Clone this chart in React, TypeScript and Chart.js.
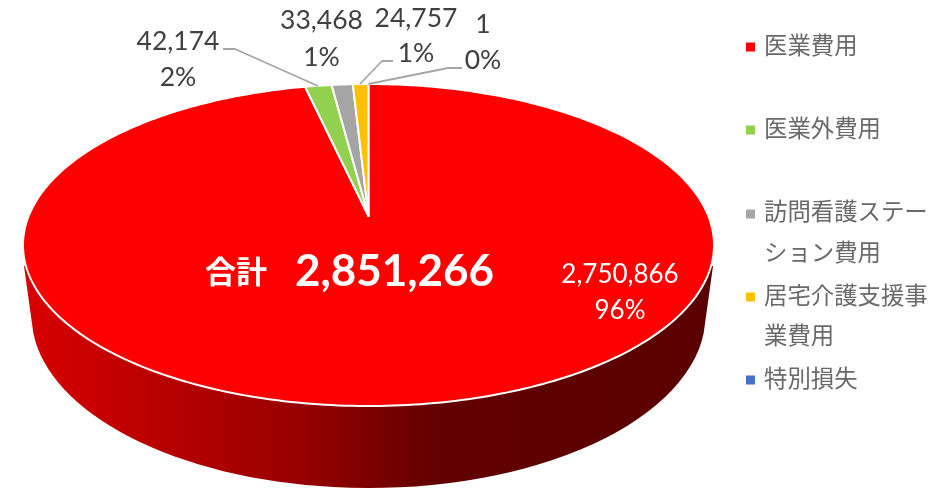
import React, { useEffect, useRef } from "react";
import { Chart, registerables } from "chart.js";

Chart.register(...registerables);

const categories = ["医業費用", "医業外費用", "訪問看護ステーション費用", "居宅介護支援事業費用", "特別損失"];
const legendLines = [["医業費用"], ["医業外費用"], ["訪問看護ステー", "ション費用"], ["居宅介護支援事", "業費用"], ["特別損失"]];
const values = [2750866, 42174, 33468, 24757, 1];
const percentLabels = ["96%", "2%", "1%", "1%", "0%"];
const colors = ["#FF0000", "#92D050", "#A5A5A5", "#FFC000", "#4472C4"];
const totalLabel = "合計";
const totalValue = 2851266;

// Layout of the projected disc (perspective view of a circle)
const CX = 368.5;
const APEX_Y = 216;
const TOP_Y = 84;
const BOTTOM_Y = 406;
const HALF_W = 345.5;
const K = -((BOTTOM_Y - APEX_Y) - (APEX_Y - TOP_Y)) / ((BOTTOM_Y - APEX_Y) + (APEX_Y - TOP_Y));
const B = (APEX_Y - TOP_Y) * (1 - K);
const A = HALF_W * Math.sqrt(1 - K * K);

const project = (angle: number) => {
  const th = angle + Math.PI / 2;
  const u = Math.sin(th);
  const v = -Math.cos(th);
  const w = 1 + K * v;
  return { x: CX + (A * u) / w, y: APEX_Y + (B * v) / w };
};

const labelLayout = [
  { x: 620, y1: 283, y2: 319, color: "#FFFFFF", size: 26 },
  { x: 178, y1: 50, y2: 86, color: "#404040", size: 26.5 },
  { x: 321.5, y1: 29, y2: 66, color: "#404040", size: 26.5 },
  { x: 416, y1: 27, y2: 62, color: "#404040", size: 26.5 },
  { x: 483, y1: 33, y2: 69, color: "#404040", size: 26.5 },
];
const leaders: ([number, number][] | null)[] = [
  null,
  [[223, 49], [235, 49], [318, 86]],
  null,
  [[393, 61], [382, 61], [360, 84]],
  [[462, 68], [448, 68], [368.5, 84]],
];
const legendYs = [[45], [128], [211, 252], [295, 335], [378]];
const swatchYs = [47, 130, 214, 297, 380];

const pie3d = {
  id: "pie3d",
  beforeDatasetDraw(chart: any, args: any) {
    const ctx = chart.ctx as CanvasRenderingContext2D;
    // side wall
    const lowY = 315, lowA = 337, lowB = 173, t = 0.105;
    const g = ctx.createLinearGradient(24, 0, 714, 0);
    g.addColorStop(0, "#D80000");
    g.addColorStop(0.4, "#980000");
    g.addColorStop(0.6, "#620000");
    g.addColorStop(1, "#5A0000");
    ctx.save();
    ctx.beginPath();
    ctx.moveTo(713, 266);
    ctx.ellipse(CX, lowY, lowA, lowB, 0, t, Math.PI - t, false);
    ctx.lineTo(24, 266);
    ctx.closePath();
    ctx.fillStyle = g;
    ctx.fill();
    ctx.restore();
    // top face: slices from the angles the doughnut controller computed
    const arcs = args.meta.data;
    arcs.forEach((arc: any, i: number) => {
      const { startAngle, endAngle } = arc.getProps(["startAngle", "endAngle"], true);
      const n = Math.max(2, Math.ceil((endAngle - startAngle) * 60));
      ctx.beginPath();
      ctx.moveTo(CX, APEX_Y);
      for (let s = 0; s <= n; s++) {
        const p = project(startAngle + ((endAngle - startAngle) * s) / n);
        ctx.lineTo(p.x, p.y);
      }
      ctx.closePath();
      ctx.fillStyle = colors[i];
      ctx.fill();
      if (values[i] > 1) {
        ctx.strokeStyle = "#FFFFFF";
        ctx.lineWidth = 2;
        ctx.lineJoin = "round";
        ctx.stroke();
      }
    });
    return false;
  },
  afterDraw(chart: any) {
    const ctx = chart.ctx as CanvasRenderingContext2D;
    ctx.save();
    // leader lines
    ctx.strokeStyle = "#A6A6A6";
    ctx.lineWidth = 1.8;
    leaders.forEach((pts) => {
      if (!pts) return;
      ctx.beginPath();
      pts.forEach(([x, y], i) => (i ? ctx.lineTo(x, y) : ctx.moveTo(x, y)));
      ctx.stroke();
    });
    // data labels
    ctx.textAlign = "center";
    ctx.textBaseline = "alphabetic";
    values.forEach((v, i) => {
      const l = labelLayout[i];
      ctx.fillStyle = l.color;
      ctx.font = `${l.size}px Lato`;
      ctx.fillText(v.toLocaleString("en-US"), l.x, l.y1);
      ctx.fillText(percentLabels[i], l.x, l.y2);
    });
    // total
    ctx.fillStyle = "#FFFFFF";
    ctx.font = 'bold 31px "Noto Sans CJK JP"';
    ctx.fillText(totalLabel, 236, 283);
    ctx.font = "bold 44px Lato";
    ctx.fillText(totalValue.toLocaleString("en-US"), 394.5, 286);
    // legend
    ctx.textAlign = "left";
    categories.forEach((_, i) => {
      ctx.fillStyle = colors[i];
      ctx.fillRect(746, swatchYs[i] - 4.5, 9, 9);
      ctx.fillStyle = "#696969";
      ctx.font = '23.4px "Noto Sans CJK JP"';
      ctx.textBaseline = "middle";
      legendLines[i].forEach((line, j) => ctx.fillText(line, 764, legendYs[i][j]));
      ctx.textBaseline = "alphabetic";
    });
    ctx.restore();
  },
};

export default function App() {
  const ref = useRef<HTMLCanvasElement>(null);
  useEffect(() => {
    document.body.style.margin = "0";
    document.body.style.background = "#FFFFFF";
    const chart = new Chart(ref.current as HTMLCanvasElement, {
      type: "pie",
      data: {
        labels: categories,
        datasets: [{ data: values, backgroundColor: colors, borderColor: "#FFFFFF", borderWidth: 1.5 }],
      },
      options: {
        responsive: false,
        animation: false,
        plugins: { legend: { display: false }, tooltip: { enabled: false } },
      },
      plugins: [pie3d],
    } as any);
    return () => chart.destroy();
  }, []);
  return (
    <div style={{ width: 951, height: 489, overflow: "hidden" }}>
      <canvas ref={ref} width={951} height={489} style={{ display: "block", width: 951, height: 489 }} />
    </div>
  );
}
